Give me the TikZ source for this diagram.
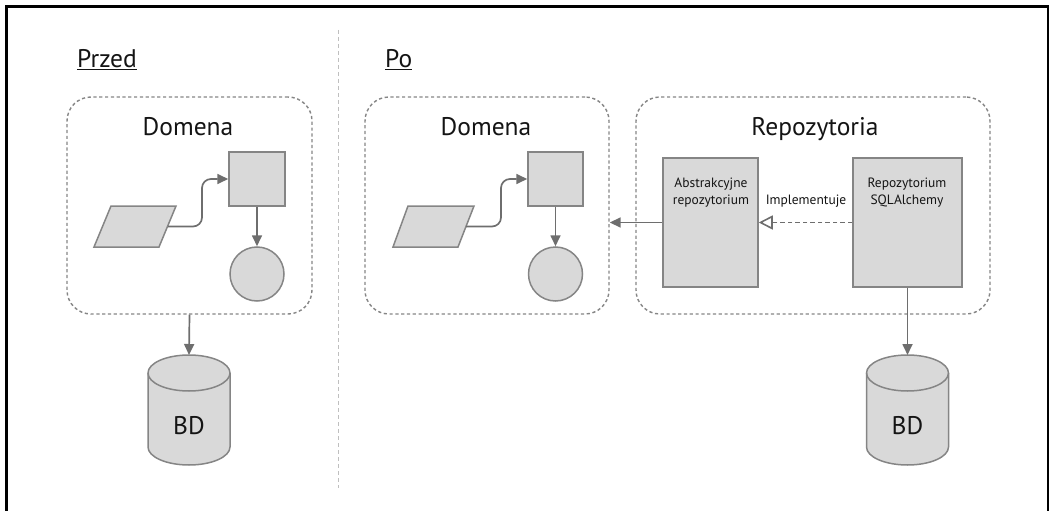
\documentclass[tikz,border=0pt]{standalone}
\usepackage{fontspec}
\setmainfont{PT Sans}
\usetikzlibrary{arrows.meta,calc}
\definecolor{shfill}{HTML}{D9D9D9}
\definecolor{shline}{HTML}{858585}
\definecolor{arline}{HTML}{6E6E6E}
\definecolor{dline}{HTML}{858585}
\definecolor{txt}{HTML}{141414}
\tikzset{
  dbox/.style={draw=dline, line width=1.4pt, dash pattern=on 3.2pt off 2.6pt, rounded corners=24pt, inner sep=0pt},
  shp/.style={draw=shline, fill=shfill, line width=1.5pt, inner sep=0pt},
  conn/.style={draw=arline, line width=1.7pt, -{Triangle[length=11pt,width=10pt]}},
  big/.style={font=\fontsize{25.5}{30}\selectfont, text=txt, inner sep=0pt},
  small/.style={font=\fontsize{13.5}{17}\selectfont, text=txt, inner sep=0pt, align=center},
}
\begin{document}
\begin{tikzpicture}[x=1pt,y=1pt]
\useasboundingbox (0,0) rectangle (1050,-511);
% frame
\draw[black, line width=2.8pt] (6.5,-515) -- (6.5,-6.5) -- (1048,-6.5) -- (1048,-515);
% divider
\draw[gray!50, line width=1pt, dash pattern=on 4pt off 3pt] (338,-30) -- (338,-488);
% headings
\node[big, anchor=base west] (przed) at (77,-67) {\underline{Przed}};
\node[big, anchor=base west] (po) at (385,-67) {\underline{Po}};

% ---------- Przed ----------
\node[dbox, minimum width=245pt, minimum height=217pt] (dom1) at (189.5,-205.5) {};
\node[big, anchor=base] (dom1t) at (188,-135) {Domena};
\node[shp, minimum width=56pt, minimum height=54pt] (sq1) at (257,-179) {};
\node[shp, circle, minimum size=54pt] (ci1) at (257,-274) {};
\filldraw[draw=shline, fill=shfill, line width=1.5pt] (111,-206) -- (176,-206) -- (159,-247) -- (94,-247) -- cycle;
\coordinate (pa1) at (168,-226.5);
\draw[conn, rounded corners=9pt] (pa1) -| (202,-179) -- (sq1.west);
\draw[conn] (sq1.south) -- (ci1.north);
% cylinder 1
\coordinate (db1top) at (189,-355);
\filldraw[draw=shline, fill=shfill, line width=1.5pt]
  (148,-373) -- (148,-447) arc[start angle=180,end angle=360,x radius=41pt,y radius=18pt]
  -- (230,-373) arc[start angle=0,end angle=180,x radius=41pt,y radius=18pt] -- cycle;
\draw[shline, line width=1.5pt] (148,-373) arc[start angle=180,end angle=360,x radius=41pt,y radius=18pt];
\node[big, anchor=base] (db1) at (189,-434) {BD};
\draw[conn] (dom1.south) -- (db1top);

% ---------- Po ----------
\node[dbox, minimum width=244pt, minimum height=217pt] (dom2) at (487,-205.5) {};
\node[big, anchor=base] (dom2t) at (486,-135) {Domena};
\node[shp, minimum width=55pt, minimum height=54pt] (sq2) at (555.5,-179) {};
\node[shp, circle, minimum size=54pt] (ci2) at (555.5,-274) {};
\filldraw[draw=shline, fill=shfill, line width=1.5pt] (408,-206) -- (474,-206) -- (458,-247) -- (393,-247) -- cycle;
\coordinate (pa2) at (466,-226.5);
\draw[conn, rounded corners=9pt] (pa2) -| (501,-179) -- (sq2.west);
\draw[conn] (sq2.south) -- (ci2.north);

\node[dbox, minimum width=354pt, minimum height=217pt] (repo) at (813,-205.5) {};
\node[big, anchor=base] (repot) at (815,-135) {Repozytoria};
\node[shp, minimum width=95pt, minimum height=129pt] (abs) at (710.5,-222.5) {};
\node[shp, minimum width=109pt, minimum height=129pt] (sql) at (907.5,-222.5) {};
\node[small, anchor=base] (abst) at (711,-204) {Abstrakcyjne\\repozytorium};
\node[small, anchor=base] (sqlt) at (907,-204) {Repozytorium\\SQLAlchemy};
\node[small, anchor=base] (impl) at (806,-204) {Implementuje};
\draw[draw=arline, line width=1.6pt, dash pattern=on 4.5pt off 3pt, -{Triangle[open,length=14pt,width=14pt,line width=1.6pt,fill=white]}] (sql.west) -- (abs.east);
\draw[conn] (abs.west) -- (abs.west -| dom2.east);

% cylinder 2
\coordinate (db2top) at (907.5,-355);
\filldraw[draw=shline, fill=shfill, line width=1.5pt]
  (866.5,-373) -- (866.5,-447) arc[start angle=180,end angle=360,x radius=41pt,y radius=18pt]
  -- (948.5,-373) arc[start angle=0,end angle=180,x radius=41pt,y radius=18pt] -- cycle;
\draw[shline, line width=1.5pt] (866.5,-373) arc[start angle=180,end angle=360,x radius=41pt,y radius=18pt];
\node[big, anchor=base] (db2) at (907.5,-434) {BD};
\draw[conn] (sql.south) -- (db2top);
\end{tikzpicture}
\end{document}
